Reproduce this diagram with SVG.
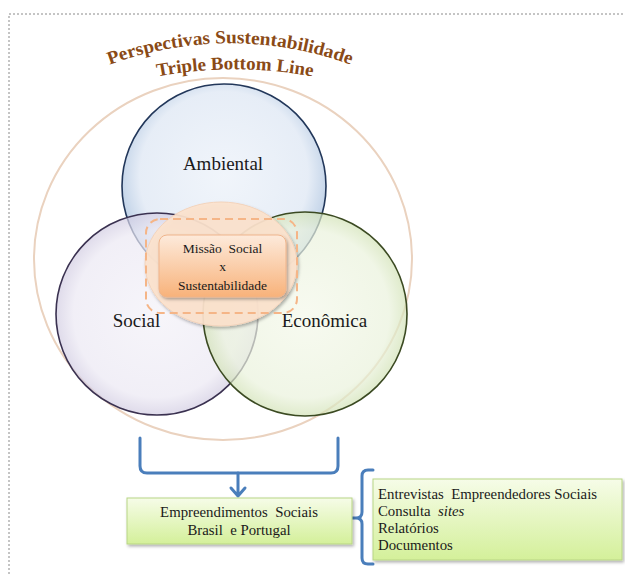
<svg xmlns="http://www.w3.org/2000/svg" width="625" height="576" viewBox="0 0 625 576">
<style>
.lbl{font-family:"Liberation Serif","Times New Roman",serif;fill:#1a1a1a}
.big{font-size:19px}
.mid{font-size:13.5px}
.box{font-size:14.8px}
.title{font-family:"Liberation Serif","Times New Roman",serif;font-weight:bold;font-size:18.5px;fill:#8a4a16}
.conn{fill:none;stroke:#4a7ebb;stroke-width:3;stroke-linecap:round;stroke-linejoin:round}
</style>
<defs>
<radialGradient id="gBlue" cx="50%" cy="45%" r="55%">
<stop offset="0" stop-color="#eef3fa"/><stop offset="0.75" stop-color="#e2eaf5"/><stop offset="1" stop-color="#a9c1de"/>
</radialGradient>
<radialGradient id="gPur" cx="50%" cy="50%" r="55%">
<stop offset="0" stop-color="#f3f1f8"/><stop offset="0.75" stop-color="#ebe8f3"/><stop offset="1" stop-color="#c3bcd8"/>
</radialGradient>
<radialGradient id="gGrn" cx="50%" cy="50%" r="55%">
<stop offset="0" stop-color="#f4f8ea"/><stop offset="0.75" stop-color="#eaf2dc"/><stop offset="1" stop-color="#c4d9a0"/>
</radialGradient>
<linearGradient id="gOr" x1="0" y1="0" x2="0" y2="1">
<stop offset="0" stop-color="#fdeadb"/><stop offset="1" stop-color="#f8b27a"/>
</linearGradient>
<linearGradient id="gBox" x1="0" y1="0" x2="0" y2="1">
<stop offset="0" stop-color="#f6fce8"/><stop offset="1" stop-color="#d4f09a"/>
</linearGradient>
<linearGradient id="gTitle" x1="0" y1="0" x2="0" y2="1">
<stop offset="0" stop-color="#a45f22"/><stop offset="1" stop-color="#7a3f10"/>
</linearGradient>
<filter id="sh" x="-10%" y="-10%" width="130%" height="140%">
<feDropShadow dx="1.5" dy="2" stdDeviation="1.5" flood-color="#000" flood-opacity="0.3"/>
</filter>
<path id="arc1" d="M106,66 A350,350 0 0 1 354,66"/>
<path id="arc2" d="M150,78 A420,420 0 0 1 320,78"/>
</defs>

<rect x="9" y="14" width="630" height="580" fill="none" stroke="#8a8a8a" stroke-width="1" stroke-dasharray="2 2"/>

<g id="title">
<text class="title" fill="url(#gTitle)"><textPath href="#arc1" startOffset="50%" text-anchor="middle" textLength="246" lengthAdjust="spacingAndGlyphs">Perspectivas Sustentabilidade</textPath></text>
<text class="title" fill="url(#gTitle)"><textPath href="#arc2" startOffset="50%" text-anchor="middle" textLength="156" lengthAdjust="spacingAndGlyphs">Triple Bottom Line</textPath></text>
</g>

<g id="outer">
<ellipse cx="223" cy="259" rx="189" ry="181" fill="none" stroke="#ead2bf" stroke-width="2"/>
</g>

<g id="ambiental">
<circle cx="224" cy="186" r="102" fill="url(#gBlue)" fill-opacity="0.85" stroke="#22375a" stroke-width="1.6"/>
<text class="lbl big" x="223" y="170" text-anchor="middle">Ambiental</text>
</g>
<g id="social">
<circle cx="157" cy="314" r="101" fill="url(#gPur)" fill-opacity="0.7" stroke="#3a3150" stroke-width="1.6"/>
<text class="lbl big" x="136.5" y="327" text-anchor="middle">Social</text>
</g>
<g id="economica">
<circle cx="305" cy="314" r="102" fill="url(#gGrn)" fill-opacity="0.7" stroke="#3b4a22" stroke-width="1.6"/>
<text class="lbl big" x="324.5" y="327" text-anchor="middle">Econômica</text>
</g>

<g id="centro">
<ellipse cx="221" cy="264" rx="76" ry="62" fill="#fde3cd" fill-opacity="0.92" stroke="#f3d3bb" stroke-width="1" filter="url(#sh)"/>
<rect x="146" y="219" width="151" height="94" rx="14" fill="none" stroke="#f5b587" stroke-width="2" stroke-dasharray="8 5"/>
<rect x="159" y="235" width="127" height="62" rx="8" fill="url(#gOr)" stroke="#efb48b" stroke-width="1" filter="url(#sh)"/>
<text class="lbl mid" x="222.5" y="253" text-anchor="middle" xml:space="preserve">Missão  Social</text>
<text class="lbl mid" x="222.5" y="271" text-anchor="middle">x</text>
<text class="lbl mid" x="222.5" y="290" text-anchor="middle">Sustentabilidade</text>
</g>

<g id="connectors">
<path class="conn" d="M140,438 V466 Q140,473 147,473 H331 Q338,473 338,466 V438"/>
<path class="conn" d="M238,473 V496 M231,488 L238,496 L245,488"/>
<path class="conn" d="M373,470 H368 Q362,470 362,476 V512 Q362,518 356,518 H352 M356,518 Q362,518 362,524 V558 Q362,564 368,564 H373"/>
</g>

<g id="empreendimentos">
<rect x="127" y="498" width="225" height="46" fill="url(#gBox)" stroke="#b8d585" stroke-width="1" filter="url(#sh)"/>
<text class="lbl box" x="239" y="517" text-anchor="middle" xml:space="preserve">Empreendimentos  Sociais</text>
<text class="lbl box" x="239" y="535" text-anchor="middle" xml:space="preserve">Brasil  e Portugal</text>
</g>

<g id="fontes">
<rect x="373" y="479" width="249" height="81" fill="url(#gBox)" stroke="#b8d585" stroke-width="1" filter="url(#sh)"/>
<text class="lbl box" x="378" y="499" xml:space="preserve">Entrevistas  Empreendedores Sociais</text>
<text class="lbl box" x="378" y="516" xml:space="preserve">Consulta  <tspan font-style="italic">sites</tspan></text>
<text class="lbl box" x="378" y="533">Relatórios</text>
<text class="lbl box" x="378" y="550">Documentos</text>
</g>
</svg>
